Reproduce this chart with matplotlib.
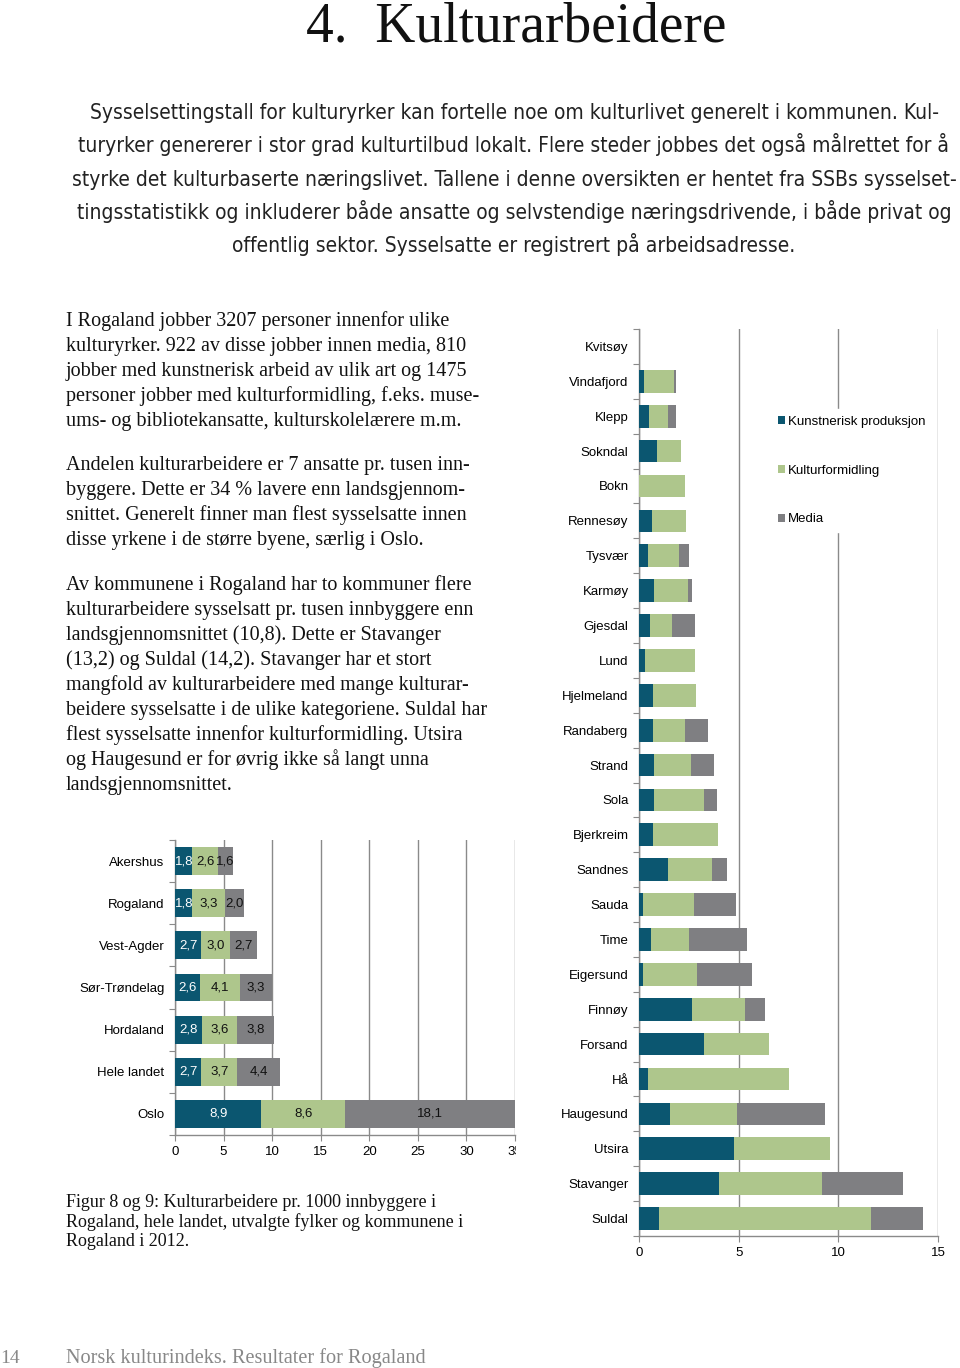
import matplotlib
matplotlib.use("Agg")
import matplotlib.pyplot as plt
from matplotlib import font_manager as fm
from matplotlib.transforms import Bbox, TransformedBbox
import numpy as np

# ---------------- data ----------------
fylker = ["Akershus", "Rogaland", "Vest-Agder", "Sør-Trøndelag", "Hordaland", "Hele landet", "Oslo"]
fylke_kunst = [1.8, 1.8, 2.7, 2.6, 2.8, 2.7, 8.9]
fylke_formidling = [2.6, 3.3, 3.0, 4.1, 3.6, 3.7, 8.6]
fylke_media = [1.6, 2.0, 2.7, 3.3, 3.8, 4.4, 18.1]

kommuner = ["Kvitsøy", "Vindafjord", "Klepp", "Sokndal", "Bokn", "Rennesøy", "Tysvær", "Karmøy",
            "Gjesdal", "Lund", "Hjelmeland", "Randaberg", "Strand", "Sola", "Bjerkreim", "Sandnes",
            "Sauda", "Time", "Eigersund", "Finnøy", "Forsand", "Hå", "Haugesund", "Utsira",
            "Stavanger", "Suldal"]
kom_kunst = [0.0, 0.23, 0.49, 0.91, 0.0, 0.65, 0.47, 0.74, 0.54, 0.32, 0.72, 0.69, 0.76, 0.74,
             0.72, 1.44, 0.22, 0.60, 0.20, 2.65, 3.26, 0.45, 1.54, 4.78, 4.01, 1.02]
kom_formidling = [0.0, 1.51, 0.96, 1.21, 2.32, 1.73, 1.53, 1.74, 1.11, 2.50, 2.13, 1.61, 1.86, 2.53,
                  3.24, 2.23, 2.53, 1.91, 2.73, 2.67, 3.27, 7.10, 3.39, 4.82, 5.18, 10.62]
kom_media = [0.0, 0.10, 0.42, 0.0, 0.0, 0.0, 0.49, 0.20, 1.17, 0.0, 0.0, 1.17, 1.16, 0.62,
             0.0, 0.74, 2.10, 2.89, 2.73, 0.99, 0.0, 0.0, 4.40, 0.0, 4.04, 2.60]

series_names = ["Kunstnerisk produksjon", "Kulturformidling", "Media"]
left_xticks = [0, 5, 10, 15, 20, 25, 30, 35]
right_xticks = [0, 5, 10, 15]

title_text = "4.  Kulturarbeidere"
intro_lines = [
    "Sysselsettingstall for kulturyrker kan fortelle noe om kulturlivet generelt i kommunen. Kul-",
    "turyrker genererer i stor grad kulturtilbud lokalt. Flere steder jobbes det også målrettet for å",
    "styrke det kulturbaserte næringslivet. Tallene i denne oversikten er hentet fra SSBs sysselset-",
    "tingsstatistikk og inkluderer både ansatte og selvstendige næringsdrivende, i både privat og",
    "offentlig sektor. Sysselsatte er registrert på arbeidsadresse.",
]
para1 = [
    "I Rogaland jobber 3207 personer innenfor ulike",
    "kulturyrker. 922 av disse jobber innen media, 810",
    "jobber med kunstnerisk arbeid av ulik art og 1475",
    "personer jobber med kulturformidling, f.eks. muse-",
    "ums- og bibliotekansatte, kulturskolelærere m.m.",
]
para2 = [
    "Andelen kulturarbeidere er 7 ansatte pr. tusen inn-",
    "byggere. Dette er 34 % lavere enn landsgjennom-",
    "snittet. Generelt finner man flest sysselsatte innen",
    "disse yrkene i de større byene, særlig i Oslo.",
]
para3 = [
    "Av kommunene i Rogaland har to kommuner flere",
    "kulturarbeidere sysselsatt pr. tusen innbyggere enn",
    "landsgjennomsnittet (10,8). Dette er Stavanger",
    "(13,2) og Suldal (14,2). Stavanger har et stort",
    "mangfold av kulturarbeidere med mange kulturar-",
    "beidere sysselsatte i de ulike kategoriene. Suldal har",
    "flest sysselsatte innenfor kulturformidling. Utsira",
    "og Haugesund er for øvrig ikke så langt unna",
    "landsgjennomsnittet.",
]
caption_lines = [
    "Figur 8 og 9: Kulturarbeidere pr. 1000 innbyggere i",
    "Rogaland, hele landet, utvalgte fylker og kommunene i",
    "Rogaland i 2012.",
]
footer_page = "14"
footer_text = "Norsk kulturindeks. Resultater for Rogaland"

# ---------------- style ----------------
C_BLUE = "#0b5670"
C_GREEN = "#aec68c"
C_GRAY = "#7f7f82"
C_GRID = "#8a8a8a"
SANS = ["Liberation Sans", "DejaVu Sans"]
SERIF = ["Liberation Serif", "DejaVu Serif"]
FS_CHART = 9.5

W, H = 960, 1368
fig = plt.figure(figsize=(W / 100, H / 100), dpi=100)
fig.patch.set_facecolor("white")


def px(x, y):
    return x / W, 1 - y / H


# pick a condensed sans for intro paragraph
intro_family = None
intro_stretch = "normal"
for fam, st in [("Liberation Sans Narrow", "normal"), ("DejaVu Sans", "condensed"),
                ("Noto Sans", "condensed"), ("Open Sans", "condensed")]:
    try:
        f = fm.findfont(fm.FontProperties(family=fam, stretch=st), fallback_to_default=False)
        if fam == "Liberation Sans Narrow" or "ondensed" in f:
            intro_family, intro_stretch = fam, st
            break
    except Exception:
        pass
if intro_family is None:
    intro_family = "Open Sans"

# ---------------- texts ----------------
fig.text(*px(516, 41), title_text, family=SERIF, fontsize=40, ha="center", va="baseline", color="#111")

intro_texts = []
for i, line in enumerate(intro_lines):
    t = fig.text(*px(514, 119 + i * 33.3), line, family=[intro_family, "DejaVu Sans"],
                 stretch=intro_stretch, fontsize=15, ha="center", va="baseline", color="#222")
    intro_texts.append(t)

# fit intro font size so the widest line spans the reference width
renderer = fig.canvas.get_renderer()
wmax = max(t.get_window_extent(renderer).width for t in intro_texts[:4])
fs_intro = 15 * 886 / wmax
for t in intro_texts:
    t.set_fontsize(fs_intro)

for block, y0 in [(para1, 326), (para2, 470), (para3, 590)]:
    for i, line in enumerate(block):
        fig.text(*px(66, y0 + i * 25.0), line, family=SERIF, fontsize=14.5,
                 ha="left", va="baseline", color="#111")

for i, line in enumerate(caption_lines):
    fig.text(*px(66, 1207 + i * 19.7), line, family=SERIF, fontsize=13,
             ha="left", va="baseline", color="#111")

fig.text(*px(0, 1363), footer_page, family=SERIF, fontsize=14, ha="left", va="baseline", color="#888")
fig.text(*px(66, 1363), footer_text, family=SERIF, fontsize=14.6, ha="left", va="baseline", color="#888")


# ---------------- axes helpers ----------------
def style_axes(ax, n, xmax, xticks):
    ax.set_xlim(0, xmax)
    ax.set_ylim(n - 0.5, -0.5)
    ax.set_axisbelow(True)
    ax.grid(axis="x", color=C_GRID, linewidth=1.0)
    for s in ["top", "right"]:
        ax.spines[s].set_visible(False)
    for s in ["left", "bottom"]:
        ax.spines[s].set_color(C_GRID)
        ax.spines[s].set_linewidth(1.0)
    ax.set_yticks(np.arange(-0.5, n, 1.0))
    ax.set_yticklabels([])
    ax.tick_params(axis="y", which="major", length=4, color=C_GRID, direction="out")
    ax.set_xticks(xticks)
    ax.set_xticklabels([str(v) for v in xticks])
    ax.tick_params(axis="x", which="major", length=4, color=C_GRID, direction="out",
                   labelsize=FS_CHART, pad=4)
    for lbl in ax.get_xticklabels():
        lbl.set_family(SANS)


def stacked(ax, cats, a, b, c, height=0.66):
    y = np.arange(len(cats))
    a = np.array(a); b = np.array(b); c = np.array(c)
    r1 = ax.barh(y, a, height=height, color=C_BLUE, label=series_names[0], zorder=3)
    r2 = ax.barh(y, b, left=a, height=height, color=C_GREEN, label=series_names[1], zorder=3)
    r3 = ax.barh(y, c, left=a + b, height=height, color=C_GRAY, label=series_names[2], zorder=3)
    ax.set_yticks(y, minor=True)
    ax.set_yticklabels(cats, minor=True, family=SANS, fontsize=FS_CHART)
    ax.tick_params(axis="y", which="minor", length=0, pad=7.5)
    return r1, r2, r3


def fmt(vals):
    return [f"{v:.1f}".replace(".", ",") for v in vals]


# left chart (fylker)
axL = fig.add_axes([175 / W, 1 - 1135 / H, (515 - 175) / W, (1135 - 840) / H])
style_axes(axL, len(fylker), 35, left_xticks)
bl = stacked(axL, fylker, fylke_kunst, fylke_formidling, fylke_media, height=0.66)
axL.bar_label(bl[0], labels=fmt(fylke_kunst), label_type="center", color="white",
              fontsize=FS_CHART, family=SANS)
axL.bar_label(bl[1], labels=fmt(fylke_formidling), label_type="center", color="#111",
              fontsize=FS_CHART, family=SANS)
axL.bar_label(bl[2], labels=fmt(fylke_media), label_type="center", color="#111",
              fontsize=FS_CHART, family=SANS)
# last tick label is cut off by the chart edge in the reference
clipbox = TransformedBbox(Bbox([[0, 0], [516 / W, 1]]), fig.transFigure)
last = axL.get_xticklabels()[-1]
last.set_clip_box(clipbox)
last.set_clip_on(True)

# right chart (kommuner)
axR = fig.add_axes([639 / W, 1 - 1236 / H, (938 - 639) / W, (1236 - 329) / H])
style_axes(axR, len(kommuner), 15, right_xticks)
br = stacked(axR, kommuner, kom_kunst, kom_formidling, kom_media, height=0.65)
leg = axR.legend(handles=list(br), labels=series_names, loc="upper left",
                 bbox_to_anchor=(771 / W, 1 - 409 / H), bbox_transform=fig.transFigure,
                 frameon=True, fancybox=False, edgecolor="white", facecolor="white", framealpha=1,
                 prop={"family": SANS, "size": FS_CHART}, handlelength=0.55, handleheight=0.55,
                 handletextpad=0.25, labelspacing=2.8, borderaxespad=0, borderpad=0.5)
leg.set_zorder(5)

fig.savefig("out.png", dpi=100, facecolor="white")
